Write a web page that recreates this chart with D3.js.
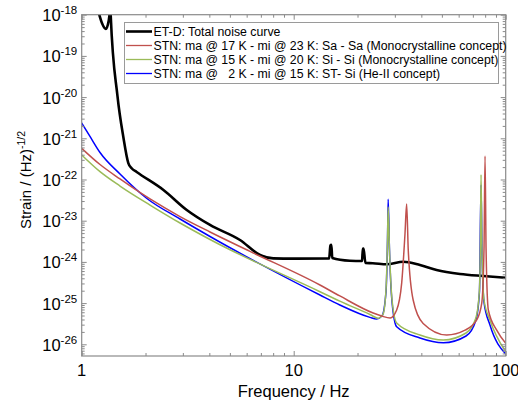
<!DOCTYPE html>
<html>
  <head>
    <meta charset="utf-8">
    <script src="https://d3js.org/d3.v7.min.js"></script>
    <style>
      body { margin: 0; background: #fff; }
      text { font-family: "Liberation Sans", Arial, sans-serif; }
    </style>
  </head>
  <body>
    <div id="plot"></div>
    <script>

    // values (frequency in Hz, strain in 1/sqrt(Hz))
    const etdF = [1.15, 1.21, 1.25, 1.30, 1.34, 1.355, 1.365, 1.37, 1.475, 1.571, 1.659, 1.72, 1.817, 2.43, 3.13, 4.03, 5.58, 6.94, 8.01, 10, 14.7, 14.9, 15.05, 15.2, 18.4, 21.0, 21.2, 21.35, 21.8, 23.6, 27.5, 32.9, 39.4, 47.2, 60.9, 78.4, 100];
    const etdS = [3e-18, 1e-18, 6e-19, 4.5e-19, 7e-19, 1.2e-18, 5e-18, 1e-18, 1.06e-20, 1.09e-21, 2.5e-22, 1.87e-22, 1.52e-22, 5.56e-23, 1.82e-23, 7.87e-24, 3.4e-24, 1.47e-24, 1.22e-24, 1.2e-24, 1.21e-24, 2.5e-24, 2.6e-24, 1.25e-24, 1.07e-24, 1.05e-24, 2.1e-24, 2.1e-24, 9.4e-25, 9.3e-25, 8.75e-25, 1.01e-24, 8.4e-25, 6.35e-25, 5.1e-25, 4.55e-25, 4.14e-25];

    const saF = [1, 1.22, 1.516, 2.10, 2.91, 4.03, 6.22, 13.3, 16.5, 23.7, 26.0, 28.5, 30.6, 32.3, 33.5, 34.1, 34.7, 36.6, 40.8, 52.7, 64.3, 73, 77.1, 79.0, 79.9, 80.8, 82.8, 90.7, 100];
    const saS = [5.71e-22, 2.31e-22, 1.03e-22, 3.37e-23, 1.26e-23, 5.32e-24, 1.8e-24, 2.75e-25, 1.49e-25, 5.75e-26, 4.86e-26, 4.35e-26, 6.8e-26, 3.0e-25, 4.9e-24, 2.54e-23, 1.95e-24, 1.19e-25, 3.2e-26, 1.68e-26, 2.2e-26, 3.9e-26, 1.0e-25, 2.0e-24, 3.7e-22, 2.0e-24, 6.8e-26, 2.2e-26, 1.06e-26];

    const siF = [1, 1.22, 1.516, 2.10, 2.91, 4.03, 13.3, 16.5, 22.9, 25.0, 26.4, 27.25, 27.7, 27.9, 28.3, 29.1, 30.6, 39.4, 50.8, 65.0, 72.4, 75.2, 76.0, 76.5, 77.3, 79.0, 84.3, 100];
    const siS = [3.94e-22, 1.55e-22, 6.95e-23, 2.4e-23, 8.8e-24, 3.5e-24, 1.89e-25, 1.12e-25, 5.3e-26, 4.3e-26, 5.4e-26, 2.1e-25, 3.4e-24, 2.15e-23, 1.95e-24, 1.19e-25, 3.3e-26, 1.68e-26, 1.27e-26, 1.88e-26, 4.4e-26, 2.1e-25, 3.4e-24, 1.31e-22, 1.95e-24, 1.19e-25, 3.85e-26, 6.6e-27];

    const stF = [1, 1.094, 1.22, 1.516, 2.03, 2.91, 4.03, 13.3, 16.5, 22.9, 24.6, 26.1, 27.25, 27.7, 27.9, 28.3, 29.1, 30.6, 39.4, 50.8, 65.0, 72.4, 75.2, 76.5, 77.3, 79.0, 84.3, 100];
    const stS = [2.35e-21, 1.11e-21, 4.52e-22, 1.36e-22, 3.46e-23, 1.1e-23, 4.14e-24, 1.57e-25, 9.0e-26, 4.5e-26, 4.1e-26, 4.9e-26, 1.87e-25, 3.4e-24, 3.3e-23, 1.95e-24, 1.06e-25, 2.67e-26, 1.42e-26, 1.09e-26, 1.59e-26, 3.9e-26, 1.87e-25, 7.4e-23, 1.95e-24, 1.06e-25, 2.94e-26, 5.8e-27];

    const legendLabels = [
      "ET-D: Total noise curve",
      "STN: ma @ 17 K - mi @ 23 K: Sa - Sa (Monocrystalline concept)",
      "STN: ma @ 15 K - mi @ 20 K: Si - Si (Monocrystalline concept)",
      "STN: ma @\u00a0\u00a0 2 K - mi @ 15 K: ST- Si (He-II concept)"
    ];
    const xTicks = [1, 10, 100];
    const yExps = [-18, -19, -20, -21, -22, -23, -24, -25, -26];

    const W = 518, H = 402;
    const pLeft = 81.7, pRight = 505.7, pTop = 14.7, pBottom = 356;

    const svg = d3.select("#plot").append("svg")
      .attr("width", W)
      .attr("height", H);

    const x = d3.scaleLog().domain([1, 100]).range([pLeft, pRight]);
    const y = d3.scaleLog().domain([5.2e-27, 1e-18]).range([pBottom, pTop]);

    svg.append("clipPath").attr("id", "clip")
      .append("rect")
        .attr("x", pLeft).attr("y", pTop)
        .attr("width", pRight - pLeft).attr("height", pBottom - pTop);

    const line = d3.line()
      .x(d => x(d[0]))
      .y(d => y(d[1]))
      .curve(d3.curveMonotoneX);

    const series = [
      { f: etdF, s: etdS, color: "#000000", w: 2.6 },
      { f: stF, s: stS, color: "#0000ff", w: 1.5 },
      { f: siF, s: siS, color: "#9bbb59", w: 1.5 },
      { f: saF, s: saS, color: "#c0504d", w: 1.5 }
    ];

    const plot = svg.append("g").attr("clip-path", "url(#clip)");
    series.forEach(function(d) {
      plot.append("path")
        .datum(d.f.map((f, i) => [f, d.s[i]]))
        .attr("fill", "none")
        .attr("stroke", d.color)
        .attr("stroke-width", d.w)
        .attr("stroke-linejoin", "round")
        .attr("d", line);
    });

    // minor tick values
    const xMinor = [];
    [1, 10].forEach(b => { for (let k = 2; k < 10; k++) xMinor.push(b * k); });
    const yMinor = [];
    yExps.concat([-27]).forEach(e => {
      for (let k = 2; k < 10; k++) {
        const v = k * Math.pow(10, e);
        if (v >= 5.2e-27 && v <= 1e-18) yMinor.push(v);
      }
    });
    const yMajor = yExps.map(e => Math.pow(10, e));

    const axisColor = "#8a8a8a";
    function styleAxis(g) {
      g.select(".domain").remove();
      g.selectAll("line").attr("stroke", axisColor);
      g.selectAll("text").remove();
    }

    // ticks, all pointing inward, mirrored on every side
    svg.append("g").attr("transform", "translate(0," + pBottom + ")")
      .call(d3.axisBottom(x).tickValues(xTicks).tickSize(-5)).call(styleAxis);
    svg.append("g").attr("transform", "translate(0," + pBottom + ")")
      .call(d3.axisBottom(x).tickValues(xMinor).tickSize(-3)).call(styleAxis);
    svg.append("g").attr("transform", "translate(0," + pTop + ")")
      .call(d3.axisTop(x).tickValues(xTicks).tickSize(-5)).call(styleAxis);
    svg.append("g").attr("transform", "translate(0," + pTop + ")")
      .call(d3.axisTop(x).tickValues(xMinor).tickSize(-3)).call(styleAxis);
    svg.append("g").attr("transform", "translate(" + pLeft + ",0)")
      .call(d3.axisLeft(y).tickValues(yMajor).tickSize(-5)).call(styleAxis);
    svg.append("g").attr("transform", "translate(" + pLeft + ",0)")
      .call(d3.axisLeft(y).tickValues(yMinor).tickSize(-3)).call(styleAxis);
    svg.append("g").attr("transform", "translate(" + pRight + ",0)")
      .call(d3.axisRight(y).tickValues(yMajor).tickSize(-5)).call(styleAxis);
    svg.append("g").attr("transform", "translate(" + pRight + ",0)")
      .call(d3.axisRight(y).tickValues(yMinor).tickSize(-3)).call(styleAxis);

    // frame
    svg.append("rect")
      .attr("x", pLeft).attr("y", pTop)
      .attr("width", pRight - pLeft).attr("height", pBottom - pTop)
      .attr("fill", "none")
      .attr("stroke", axisColor)
      .attr("stroke-width", 1.2);

    // tick labels
    svg.selectAll(".xlab")
      .data(xTicks)
      .enter().append("text")
        .attr("x", d => x(d))
        .attr("y", pBottom + 20)
        .attr("text-anchor", "middle")
        .style("font-size", "16.5px")
        .text(d => d);

    const ylab = svg.selectAll(".ylab")
      .data(yExps)
      .enter().append("text")
        .attr("x", pLeft - 4.5)
        .attr("y", d => y(Math.pow(10, d)) + 6.5)
        .attr("text-anchor", "end")
        .style("font-size", "16.5px");
    ylab.append("tspan").text("10");
    ylab.append("tspan")
      .attr("dy", -7)
      .style("font-size", "11.5px")
      .text(d => d);

    // axis titles
    svg.append("text")
      .attr("x", (pLeft + pRight) / 2)
      .attr("y", 397)
      .attr("text-anchor", "middle")
      .style("font-size", "16.5px")
      .text("Frequency / Hz");

    const yt = svg.append("text")
      .attr("transform", "translate(31,180) rotate(-90)")
      .attr("text-anchor", "middle")
      .style("font-size", "15px");
    yt.append("tspan").text("Strain / (Hz)");
    yt.append("tspan").attr("dy", -6).style("font-size", "10.5px").text("-1/2");

    // legend
    const lg = svg.append("g");
    lg.append("rect")
      .attr("x", 124.5).attr("y", 22.5)
      .attr("width", 374).attr("height", 61)
      .attr("fill", "#fff")
      .attr("stroke", "#9a9a9a")
      .attr("stroke-width", 1);
    const legendColors = ["#000000", "#c0504d", "#9bbb59", "#0000ff"];
    const legendWidths = [2.6, 1.3, 1.3, 1.3];
    legendLabels.forEach(function(t, i) {
      const yy = 31.5 + i * 14;
      lg.append("line")
        .attr("x1", 126).attr("x2", 152)
        .attr("y1", yy).attr("y2", yy)
        .attr("stroke", legendColors[i])
        .attr("stroke-width", legendWidths[i]);
      lg.append("text")
        .attr("x", 153.5)
        .attr("y", yy + 4.3)
        .style("font-size", "12.3px")
        .text(t);
    });

    </script>
  </body>
</html>
